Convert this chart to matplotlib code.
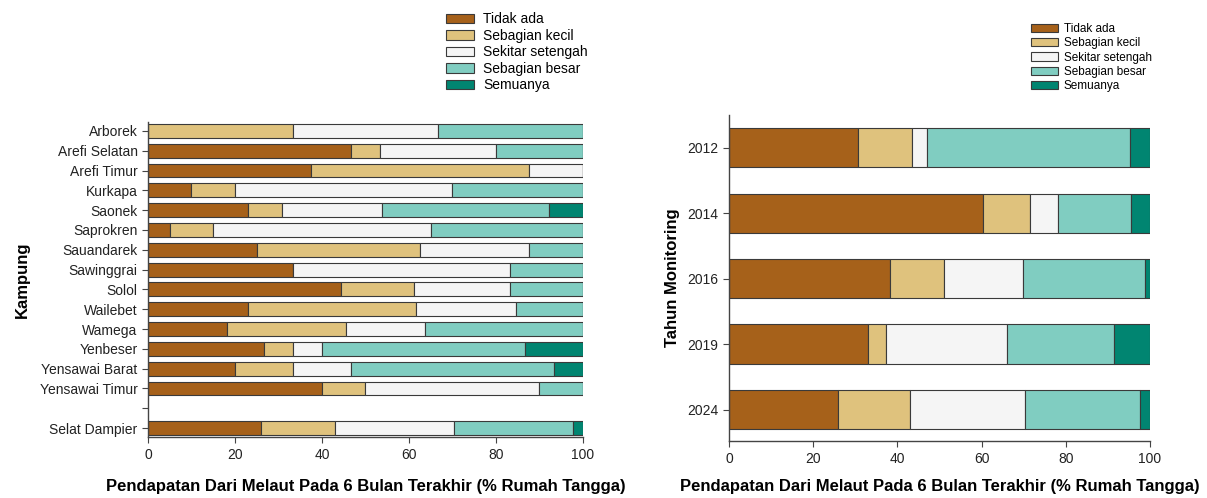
import matplotlib.pyplot as plt
import numpy as np

plt.rcParams['font.family'] = ['Liberation Sans', 'DejaVu Sans']

# Kategori dan warna
kategori = ["Tidak ada", "Sebagian kecil", "Sekitar setengah", "Sebagian besar", "Semuanya"]
warna = ["#A6611A", "#DFC27D", "#F5F5F5", "#80CDC1", "#018571"]

# Panel kiri: per kampung (% rumah tangga)
kampung = ["Arborek", "Arefi Selatan", "Arefi Timur", "Kurkapa", "Saonek", "Saprokren",
           "Sauandarek", "Sawinggrai", "Solol", "Wailebet", "Wamega", "Yenbeser",
           "Yensawai Barat", "Yensawai Timur", "Selat Dampier"]
tidak_ada_k = [0, 46.7, 37.5, 10, 23.1, 5, 25, 33.3, 44.4, 23.1, 18.2, 26.7, 20, 40, 26.0]
kecil_k = [33.3, 6.7, 50, 10, 7.7, 10, 37.5, 0, 16.7, 38.5, 27.3, 6.7, 13.3, 10, 17.1]
setengah_k = [33.3, 26.7, 12.5, 50, 23.1, 50, 25, 50, 22.2, 23.1, 18.2, 6.7, 13.3, 40, 27.3]
besar_k = [33.4, 19.9, 0, 30, 38.4, 35, 12.5, 16.7, 16.7, 15.3, 36.3, 46.6, 46.7, 10, 27.2]
semua_k = [0, 0, 0, 0, 7.7, 0, 0, 0, 0, 0, 0, 13.3, 6.7, 0, 2.4]

# Panel kanan: per tahun monitoring
tahun = ["2012", "2014", "2016", "2019", "2024"]
tidak_ada_t = [30.6, 60.4, 38.3, 32.9, 26.0]
kecil_t = [12.8, 11.2, 12.8, 4.5, 17.0]
setengah_t = [3.7, 6.6, 18.8, 28.6, 27.2]
besar_t = [48.1, 17.2, 28.9, 25.4, 27.3]
semua_t = [4.8, 4.6, 1.2, 8.6, 2.5]

xlabel = "Pendapatan Dari Melaut Pada 6 Bulan Terakhir (% Rumah Tangga)"

fig = plt.figure(figsize=(12.07, 4.98), dpi=100)
ax1 = fig.add_axes([0.1226, 0.1225, 0.3604, 0.6325])
ax2 = fig.add_axes([0.604, 0.1145, 0.3488, 0.6546])


def stacked(ax, pos, series, height):
    left = np.zeros(len(pos))
    for vals, c, lab in zip(series, warna, kategori):
        ax.barh(pos, vals, left=left, height=height, color=c, edgecolor="#3a3a3a",
                linewidth=0.8, label=lab)
        left += np.array(vals)


def style(ax):
    for s in ["top", "right"]:
        ax.spines[s].set_visible(False)
    for s in ["left", "bottom"]:
        ax.spines[s].set_color("#444444")
        ax.spines[s].set_linewidth(1.0)
    ax.tick_params(colors="#444444", labelcolor="#222222", length=4, labelsize=10)
    ax.tick_params(axis="x", pad=4)
    ax.set_xlim(0, 100)
    ax.set_xticks([0, 20, 40, 60, 80, 100])


# kiri: 14 kampung, celah, lalu Selat Dampier
pos_k = list(range(14)) + [15]
stacked(ax1, pos_k, [tidak_ada_k, kecil_k, setengah_k, besar_k, semua_k], 0.7)
ax1.set_yticks(list(range(16)))
ax1.set_yticklabels(kampung[:14] + [""] + [kampung[14]])
ax1.set_ylim(15.45, -0.45)
style(ax1)
ax1.set_xlabel(xlabel, fontsize=12, fontweight="bold", labelpad=12)
ax1.set_ylabel("Kampung", fontsize=12, fontweight="bold", labelpad=7)

# kanan
pos_t = np.arange(len(tahun))
stacked(ax2, pos_t, [tidak_ada_t, kecil_t, setengah_t, besar_t, semua_t], 0.6)
ax2.set_yticks(pos_t)
ax2.set_yticklabels(tahun)
ax2.set_ylim(4.48, -0.5)
style(ax2)
ax2.set_xlabel(xlabel, fontsize=12, fontweight="bold", labelpad=9)
ax2.set_ylabel("Tahun Monitoring", fontsize=12, fontweight="bold", labelpad=5)

h, l = ax1.get_legend_handles_labels()
fig.legend(h, l, loc="upper left", bbox_to_anchor=(0.3695, 0.975), frameon=False,
           fontsize=10, handlelength=2.0, handleheight=0.7, handletextpad=0.7,
           labelspacing=0.18, borderpad=0, borderaxespad=0)
fig.legend(h, l, loc="upper left", bbox_to_anchor=(0.854, 0.954), frameon=False,
           fontsize=8.5, handlelength=2.3, handleheight=0.7, handletextpad=0.5,
           labelspacing=0.2, borderpad=0, borderaxespad=0)

fig.savefig("out.png", dpi=100)
